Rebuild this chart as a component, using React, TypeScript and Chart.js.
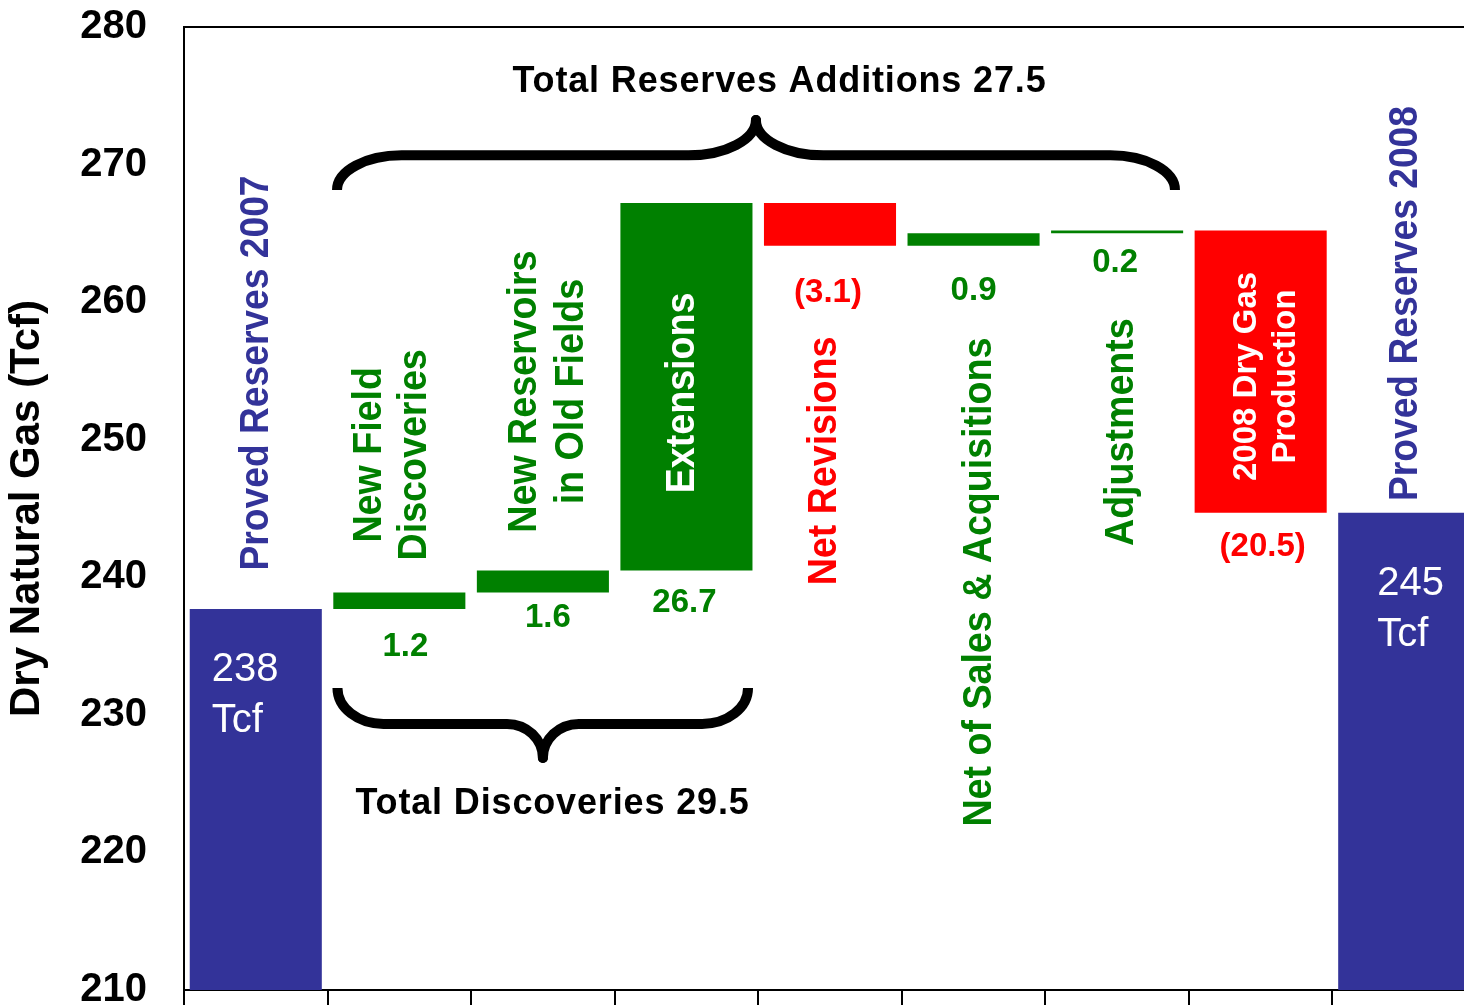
import React, { useEffect, useRef } from "react";
import { Chart, registerables } from "chart.js";

Chart.register(...registerables);

// ---------------- data ----------------
const categories = [
  "Proved Reserves 2007",
  "New Field Discoveries",
  "New Reservoirs in Old Fields",
  "Extensions",
  "Net Revisions",
  "Net of Sales & Acquisitions",
  "Adjustments",
  "2008 Dry Gas Production",
  "Proved Reserves 2008",
];
const startReserves = 237.7;
const changes = [1.2, 1.6, 26.7, -3.1, 0.9, 0.2, -20.5];
const endReserves = 244.7;
const startLabel = ["238", "Tcf"];
const endLabel = ["245", "Tcf"];
const discoveriesTotal = 29.5;
const additionsTotal = 27.5;
const yMin = 210;
const yMax = 280;
const yStep = 10;
const yTitle = "Dry Natural Gas (Tcf)";

// category label lines (drawn rotated inside the chart)
const categoryLines = [
  ["Proved Reserves 2007"],
  ["New Field", "Discoveries"],
  ["New Reservoirs", "in Old Fields"],
  ["Extensions"],
  ["Net Revisions"],
  ["Net of Sales & Acquisitions"],
  ["Adjustments"],
  ["2008 Dry Gas", "Production"],
  ["Proved Reserves 2008"],
];

// ---------------- layout / style (not data) ----------------
const BLUE = "#333399";
const GREEN = "#008000";
const RED = "#FF0000";
const FONT = "'Liberation Sans', Arial, Helvetica, sans-serif";

// label centre (value units) and x offsets (px) of each line
const catLabelY = [254.85, 248.9, 253.5, 253.4, 248.45, 239.65, 250.55, 254.6, 259.9];
const catLabelDx = [[1], [-29, 16], [-18, 29], [-3], [-5], [6], [5], [-14, 25], [2]];
const catLabelColor = [BLUE, GREEN, GREEN, "#FFFFFF", RED, GREEN, GREEN, "#FFFFFF", BLUE];
const catLabelSize = [40, 40, 40, 40, 40, 40, 40, 33, 40];
const catLabelScale = [0.93, 0.94, 0.94, 0.94, 0.94, 0.94, 0.94, 1, 0.93];
const valueLabelY = [234.93, 237.04, 238.13, 260.66, 260.81, 262.85, 242.2];
const valueLabelDx = [6, 5, -2, -2, 0, -2, 2];

function buildBars() {
  const bars: [number, number][] = [[yMin, startReserves]];
  const colors: string[] = [BLUE];
  let level = startReserves;
  for (const d of changes) {
    const next = level + d;
    bars.push([Math.min(level, next), Math.max(level, next)]);
    colors.push(d >= 0 ? GREEN : RED);
    level = next;
  }
  bars.push([yMin, endReserves]);
  colors.push(BLUE);
  return { bars, colors };
}

function fmt(d: number) {
  return d < 0 ? `(${Math.abs(d).toFixed(1)})` : d.toFixed(1);
}

function drawBrace(
  ctx: CanvasRenderingContext2D,
  xL: number, xR: number, xTip: number,
  yEnd: number, yLine: number, yTip: number,
  rxEnd: number, rxTip: number
) {
  const k = 0.552;
  ctx.beginPath();
  ctx.moveTo(xL, yEnd);
  ctx.bezierCurveTo(xL, yEnd + k * (yLine - yEnd), xL + rxEnd - k * rxEnd, yLine, xL + rxEnd, yLine);
  ctx.lineTo(xTip - rxTip, yLine);
  ctx.bezierCurveTo(xTip - rxTip + k * rxTip, yLine, xTip, yTip + k * (yLine - yTip), xTip, yTip);
  ctx.bezierCurveTo(xTip, yTip + k * (yLine - yTip), xTip + rxTip - k * rxTip, yLine, xTip + rxTip, yLine);
  ctx.lineTo(xR - rxEnd, yLine);
  ctx.bezierCurveTo(xR - rxEnd + k * rxEnd, yLine, xR, yEnd + k * (yLine - yEnd), xR, yEnd);
  ctx.stroke();
  ctx.beginPath();
  ctx.arc(xTip, yTip, ctx.lineWidth / 2, 0, Math.PI * 2);
  ctx.fill();
}

const annotationPlugin = {
  id: "waterfallAnnotations",
  afterDatasetsDraw(chart: any) {
    const ctx: CanvasRenderingContext2D = chart.ctx;
    const xs = chart.scales.x;
    const ys = chart.scales.y;
    const area = chart.chartArea;
    const px = (i: number) => xs.getPixelForValue(i);
    const py = (v: number) => ys.getPixelForValue(v);
    const catW = (area.right - area.left) / categories.length;

    ctx.save();
    // top frame line
    ctx.strokeStyle = "#000";
    ctx.lineWidth = 2;
    ctx.beginPath();
    ctx.moveTo(area.left - 1, area.top);
    ctx.lineTo(area.right, area.top);
    ctx.stroke();

    // rotated category labels
    categoryLines.forEach((lines, i) => {
      lines.forEach((t, j) => {
        ctx.save();
        ctx.translate(px(i) + catLabelDx[i][j], py(catLabelY[i]));
        ctx.rotate(-Math.PI / 2);
        ctx.scale(catLabelScale[i], 1);
        ctx.font = `bold ${catLabelSize[i]}px ${FONT}`;
        ctx.fillStyle = catLabelColor[i];
        ctx.textAlign = "center";
        ctx.textBaseline = "middle";
        ctx.fillText(t, 0, 0);
        ctx.restore();
      });
    });

    // change value labels
    ctx.font = `bold 33px ${FONT}`;
    ctx.textAlign = "center";
    ctx.textBaseline = "middle";
    changes.forEach((d, i) => {
      ctx.fillStyle = d < 0 ? RED : GREEN;
      ctx.fillText(fmt(d), px(i + 1) + valueLabelDx[i], py(valueLabelY[i]));
    });

    // totals inside blue bars
    ctx.font = `40px ${FONT}`;
    ctx.textAlign = "left";
    ctx.fillStyle = "#FFFFFF";
    ctx.fillText(startLabel[0], px(0) - 44, py(233.25));
    ctx.fillText(startLabel[1], px(0) - 44, py(229.55));
    ctx.fillText(endLabel[0], px(categories.length - 1) - 27, py(239.5));
    ctx.fillText(endLabel[1], px(categories.length - 1) - 27, py(235.8));

    // braces
    ctx.strokeStyle = "#000";
    ctx.fillStyle = "#000";
    ctx.lineWidth = 10;
    ctx.lineCap = "butt";
    ctx.lineJoin = "round";
    drawBrace(ctx, px(0.566), px(6.403), px(3.484), py(268.15), py(270.67), py(273.24), 0.45 * catW, 0.47 * catW);
    drawBrace(ctx, px(0.569), px(3.429), px(2.0), py(231.95), py(229.34), py(226.86), 0.32 * catW, 0.25 * catW);

    // brace captions
    ctx.font = `bold 36px ${FONT}`;
    (ctx as any).letterSpacing = "0.85px";
    ctx.textAlign = "center";
    ctx.textBaseline = "middle";
    ctx.fillStyle = "#000";
    ctx.fillText(`Total Reserves Additions ${additionsTotal}`, px(3.648), py(276.0));
    ctx.fillText(`Total Discoveries ${discoveriesTotal}`, px(2.067), py(223.52));
    (ctx as any).letterSpacing = "0px";
    ctx.restore();
  },
};

export default function App() {
  const ref = useRef<HTMLCanvasElement | null>(null);

  useEffect(() => {
    if (!ref.current) return;
    const { bars, colors } = buildBars();
    const chart = new Chart(ref.current, {
      type: "bar",
      data: {
        labels: categories,
        datasets: [
          {
            data: bars as any,
            backgroundColor: colors,
            borderWidth: 0,
            barPercentage: 0.92,
            categoryPercentage: 1,
          },
        ],
      },
      options: {
        responsive: false,
        animation: false,
        devicePixelRatio: 1,
        layout: { padding: { top: 27, left: 0, right: 0, bottom: 25 } },
        plugins: {
          legend: { display: false },
          tooltip: { enabled: false },
        },
        scales: {
          x: {
            offset: true,
            grid: {
              display: true,
              drawOnChartArea: false,
              drawTicks: true,
              tickLength: 15,
              color: "#000",
              lineWidth: 2,
              offset: true,
            },
            border: { display: true, color: "#000", width: 2 },
            ticks: { display: false },
            afterFit: (s: any) => {
              s.height = 15;
              s.paddingLeft = 0;
              s.paddingRight = 0;
            },
          },
          y: {
            min: yMin,
            max: yMax,
            grid: { display: false, drawTicks: false },
            border: { display: true, color: "#000", width: 2 },
            ticks: {
              stepSize: yStep,
              color: "#000",
              padding: 37,
              font: { family: FONT, size: 40, weight: "bold" },
            },
            title: {
              display: true,
              text: yTitle,
              color: "#000",
              padding: { top: 6, bottom: 0 },
              font: { family: FONT, size: 42, weight: "bold", lineHeight: 1 },
            },
            afterFit: (s: any) => {
              s.width = 184;
              s.paddingTop = 0;
              s.paddingBottom = 0;
            },
          },
        },
      },
      plugins: [annotationPlugin],
    });
    return () => chart.destroy();
  }, []);

  return (
    <div
      style={{
        position: "fixed",
        left: 0,
        top: 0,
        width: 1464,
        height: 1005,
        overflow: "hidden",
        background: "#fff",
      }}
    >
      <canvas ref={ref} width={1476} height={1030} style={{ display: "block", width: 1476, height: 1030 }} />
    </div>
  );
}
